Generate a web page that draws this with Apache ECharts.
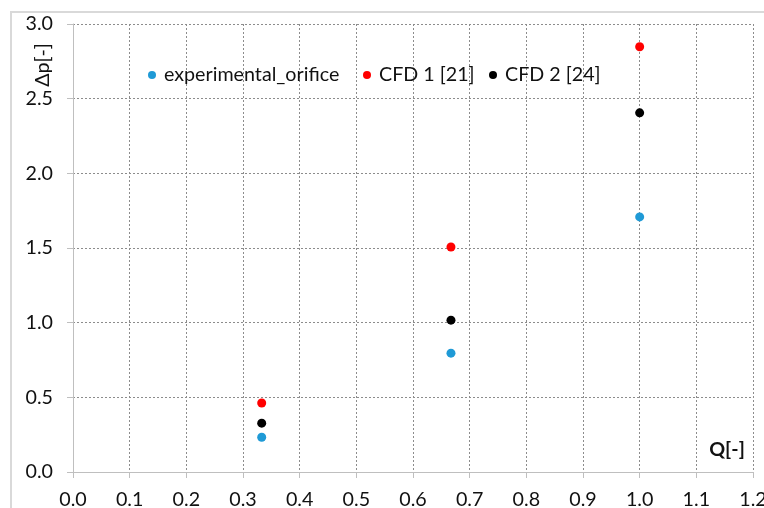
<!DOCTYPE html>
<html>
<head>
<meta charset="utf-8">
<script src="https://cdn.jsdelivr.net/npm/echarts@6/dist/echarts.min.js"></script>
<style>
  html, body { margin: 0; padding: 0; background: #ffffff; }
  #chart { width: 764px; height: 508px; }
</style>
</head>
<body>
<div id="chart"></div>
<script>
// Flow rate Q[-] at which each data set was measured / computed
const qValues = [0.333, 0.667, 1.0];
// Pressure drop Δp[-] per data set
const experimentalOrifice = [0.233, 0.796, 1.708];
const cfd1 = [0.462, 1.507, 2.848];
const cfd2 = [0.327, 1.017, 2.405];
const seriesNames = ['experimental_orifice', 'CFD 1 [21]', 'CFD 2 [24]'];
const seriesColors = ['#1f9ad6', '#ff0000', '#000000'];
const xTicks = [0, 1.2, 0.1];   // min, max, step
const yTicks = [0, 3.0, 0.5];

const FONT = 'Lato, "Noto Sans", sans-serif';
const FS = 19.7;
const textColor = '#111111';
const axisGray = '#bfbfbf';
const gridStyle = { color: '#8c8c8c', type: [2, 2], width: 1 };

const pairs = vals => qValues.map((q, i) => [q, vals[i]]);

// one legend entry per box so each key sits on its own spot along the top row
const legendLefts = [143, 358, 484];
const legends = seriesNames.map((name, i) => ({
  left: legendLefts[i], top: 60,
  icon: 'circle',
  itemWidth: 8, itemHeight: 8,
  itemStyle: { opacity: 1 },
  textStyle: { fontFamily: FONT, fontSize: FS, color: textColor, padding: [0, 0, 0, 3] },
  data: [name]
}));

const chart = echarts.init(document.getElementById('chart'), null, { renderer: 'canvas' });
chart.setOption({
  animation: false,
  backgroundColor: '#ffffff',
  textStyle: { fontFamily: FONT },
  grid: { left: 73, top: 24, right: 11, bottom: 36, containLabel: false, outerBoundsMode: 'none' },
  legend: legends,
  xAxis: {
    type: 'value',
    min: xTicks[0], max: xTicks[1], interval: xTicks[2],
    axisLine: { show: true, onZero: false, lineStyle: { color: axisGray, width: 1 } },
    axisTick: { show: true, length: 6, lineStyle: { color: axisGray } },
    axisLabel: { fontFamily: FONT, fontSize: FS, color: textColor, margin: 18,
                 hideOverlap: false, showMaxLabel: true,
                 formatter: v => v.toFixed(1) },
    splitLine: { show: true, lineStyle: gridStyle }
  },
  yAxis: {
    type: 'value',
    min: yTicks[0], max: yTicks[1], interval: yTicks[2],
    axisLine: { show: true, onZero: false, lineStyle: { color: axisGray, width: 1 } },
    axisTick: { show: true, length: 6, lineStyle: { color: axisGray } },
    axisLabel: { fontFamily: FONT, fontSize: FS, color: textColor, margin: 20,
                 formatter: v => v.toFixed(1) },
    splitLine: { show: true, lineStyle: gridStyle }
  },
  series: seriesNames.map((name, i) => ({
    name, type: 'scatter', symbolSize: 9,
    itemStyle: { color: seriesColors[i], opacity: 1 },
    data: pairs([experimentalOrifice, cfd1, cfd2][i])
  })),
  graphic: [
    { type: 'rect', silent: true, z: -1,
      shape: { x: 11, y: 12, width: 800, height: 600 },
      style: { fill: 'none', stroke: '#d9d9d9', lineWidth: 2 } },
    { type: 'text', x: 43, y: 65, rotation: Math.PI / 2,
      style: { text: 'Δp[-]', fontFamily: FONT, fontSize: FS, fill: textColor,
               align: 'center', verticalAlign: 'middle' } },
    { type: 'text', x: 727, y: 450,
      style: { text: 'Q[-]', fontFamily: FONT, fontSize: FS, fontWeight: 'bold', fill: textColor,
               align: 'center', verticalAlign: 'middle' } }
  ]
});
</script>
</body>
</html>
